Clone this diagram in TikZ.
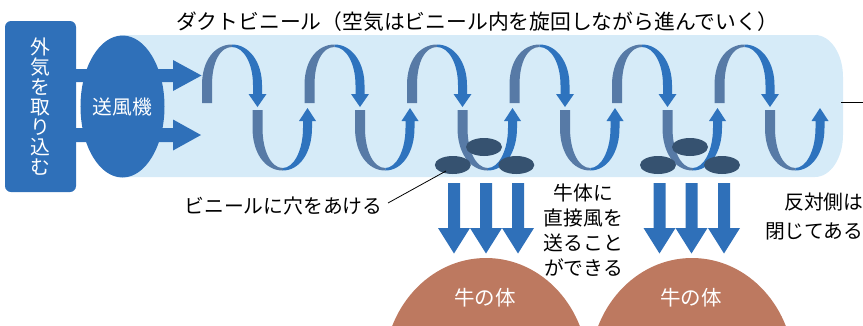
\documentclass[tikz,border=0pt]{standalone}
\usepackage{fontspec}
\newfontfamily\jp{Noto Sans CJK JP}
\usetikzlibrary{shapes.geometric}

\definecolor{boxblue}{RGB}{47,112,185}
\definecolor{ribblue}{RGB}{46,115,190}
\definecolor{ribgray}{RGB}{87,122,166}
\definecolor{ductcol}{RGB}{214,235,248}
\definecolor{holecol}{RGB}{54,82,112}
\definecolor{cowcol}{RGB}{189,121,96}

\begin{document}
\begin{tikzpicture}[x=1pt,y=-1pt,
  every node/.style={inner sep=0pt,outer sep=0pt},
  jtext/.style={font={\jp\fontsize{19.8}{25}\selectfont},text=black},
  wtext/.style={font={\jp\fontsize{19.8}{20}\selectfont},text=white},
  hole/.style={ellipse,fill=holecol,minimum width=36,minimum height=18},
  cowbody/.style={ellipse,fill=cowcol,minimum width=204,minimum height=224},
  leader/.style={draw=black,line width=0.8pt}]

\useasboundingbox (0,0) rectangle (863,325);
\clip (0,0) rectangle (863,325);

% duct (vinyl tube) with a rounded closed end
\fill[ductcol] (120,35) -- (815,35) .. controls (830.5,35) and (843,53.8) .. (843,77)
  -- (843,135) .. controls (843,158.2) and (830.5,177) .. (815,177) -- (120,177) -- cycle;

% intake box and blower
\node[fill=boxblue,rounded corners=6,minimum width=71,minimum height=171,
      wtext,align=center] (intake) at (40.5,106.5) {外\\気\\を\\取\\り\\込\\む};

% block arrows from the intake through the blower into the duct
\fill[boxblue] (70,69) -- (173,69) -- (173,60) -- (201.5,75.5) -- (173,91) -- (173,82) -- (70,82) -- cycle;
\fill[boxblue] (70,128) -- (173,128) -- (173,119.5) -- (201,135) -- (173,150.5) -- (173,142) -- (70,142) -- cycle;

\node[ellipse,fill=boxblue,minimum width=68,minimum height=142,wtext] (blower) at (122.5,106.5) {送風機};

% swirling ribbon arrows inside the duct
\foreach \i in {0,...,5}{
  \begin{scope}[shift={({207+102.5*\i},0)}]
    \fill[ribgray] (-5,103) -- (-5,85) .. controls (-5,60) and (8,44.5) .. (25,44.5)
      -- (25,47) .. controls (13,47) and (5,62) .. (5,85) -- (5,103) -- cycle;
    \fill[ribblue] (25,44.5) .. controls (42,44.5) and (55,62) .. (55,85) -- (55,94)
      -- (59.5,94) -- (50.5,107) -- (41.5,94) -- (46,94) -- (46,85)
      .. controls (46,64) and (37,47) .. (25,47) -- cycle;
    \fill[ribgray] (45.5,110) -- (45.5,128) .. controls (45.5,153) and (58,170.5) .. (75.75,170.5)
      -- (75.75,168) .. controls (64,168) and (55.5,151) .. (55.5,128) -- (55.5,110) -- cycle;
    \fill[ribblue] (75.75,170.5) .. controls (93,170.5) and (105,152) .. (105,128) -- (105,121)
      -- (109,121) -- (100.5,108) -- (92,121) -- (96,121) -- (96,128)
      .. controls (96,150) and (87,168) .. (75.75,168) -- cycle;
  \end{scope}
}

% holes cut into the vinyl
\node[hole] (h1) at (452.8,165) {};
\node[hole] (h2) at (484,147) {};
\node[hole] (h3) at (516.3,165) {};
\node[hole] (h4) at (658,165) {};
\node[hole] (h5) at (690,147) {};
\node[hole] (h6) at (722,165) {};

% air blown down onto the cows
\foreach \x in {454,486,518,659.5,691.5,724}{
  \fill[boxblue] ({\x-6},183) -- ({\x+6},183) -- ({\x+6},228) -- ({\x+16},228)
    -- (\x,253.5) -- ({\x-16},228) -- ({\x-6},228) -- cycle;
}

% cow bodies
\node[cowbody] (cow1) at (486,370) {};
\node[cowbody] (cow2) at (692,370) {};
\node[font={\jp\fontsize{20.5}{24}\selectfont},text=white] (cowtext1) at (485,297.5) {牛の体};
\node[font={\jp\fontsize{20.5}{24}\selectfont},text=white] (cowtext2) at (691,298) {牛の体};

% labels
\node[jtext,font={\jp\fontsize{20.8}{24}\selectfont},anchor=base west] (title) at (176,29.3)
  {ダクトビニール（空気はビニール内を旋回しながら進んでいく）};
\node[jtext,anchor=base west] (holetext) at (184.5,213.5) {ビニールに穴をあける};
\node[jtext,align=center] (direct) at (583.5,230) {牛体に\\直接風を\\送ること\\ができる};
\node[jtext,font={\jp\fontsize{19.8}{29.5}\selectfont},align=right,anchor=east] (closed) at (863.5,216.5)
  {反対側は\\閉じてある};

% leader lines
\coordinate (leadA) at (388,203);
\coordinate (leadB) at (446,171);
\draw[leader] (leadA) -- (leadB);
\coordinate (ductend) at (841,102);
\coordinate (lineend) at (863,102);
\draw[leader] (ductend) -- (lineend);

\end{tikzpicture}
\end{document}
